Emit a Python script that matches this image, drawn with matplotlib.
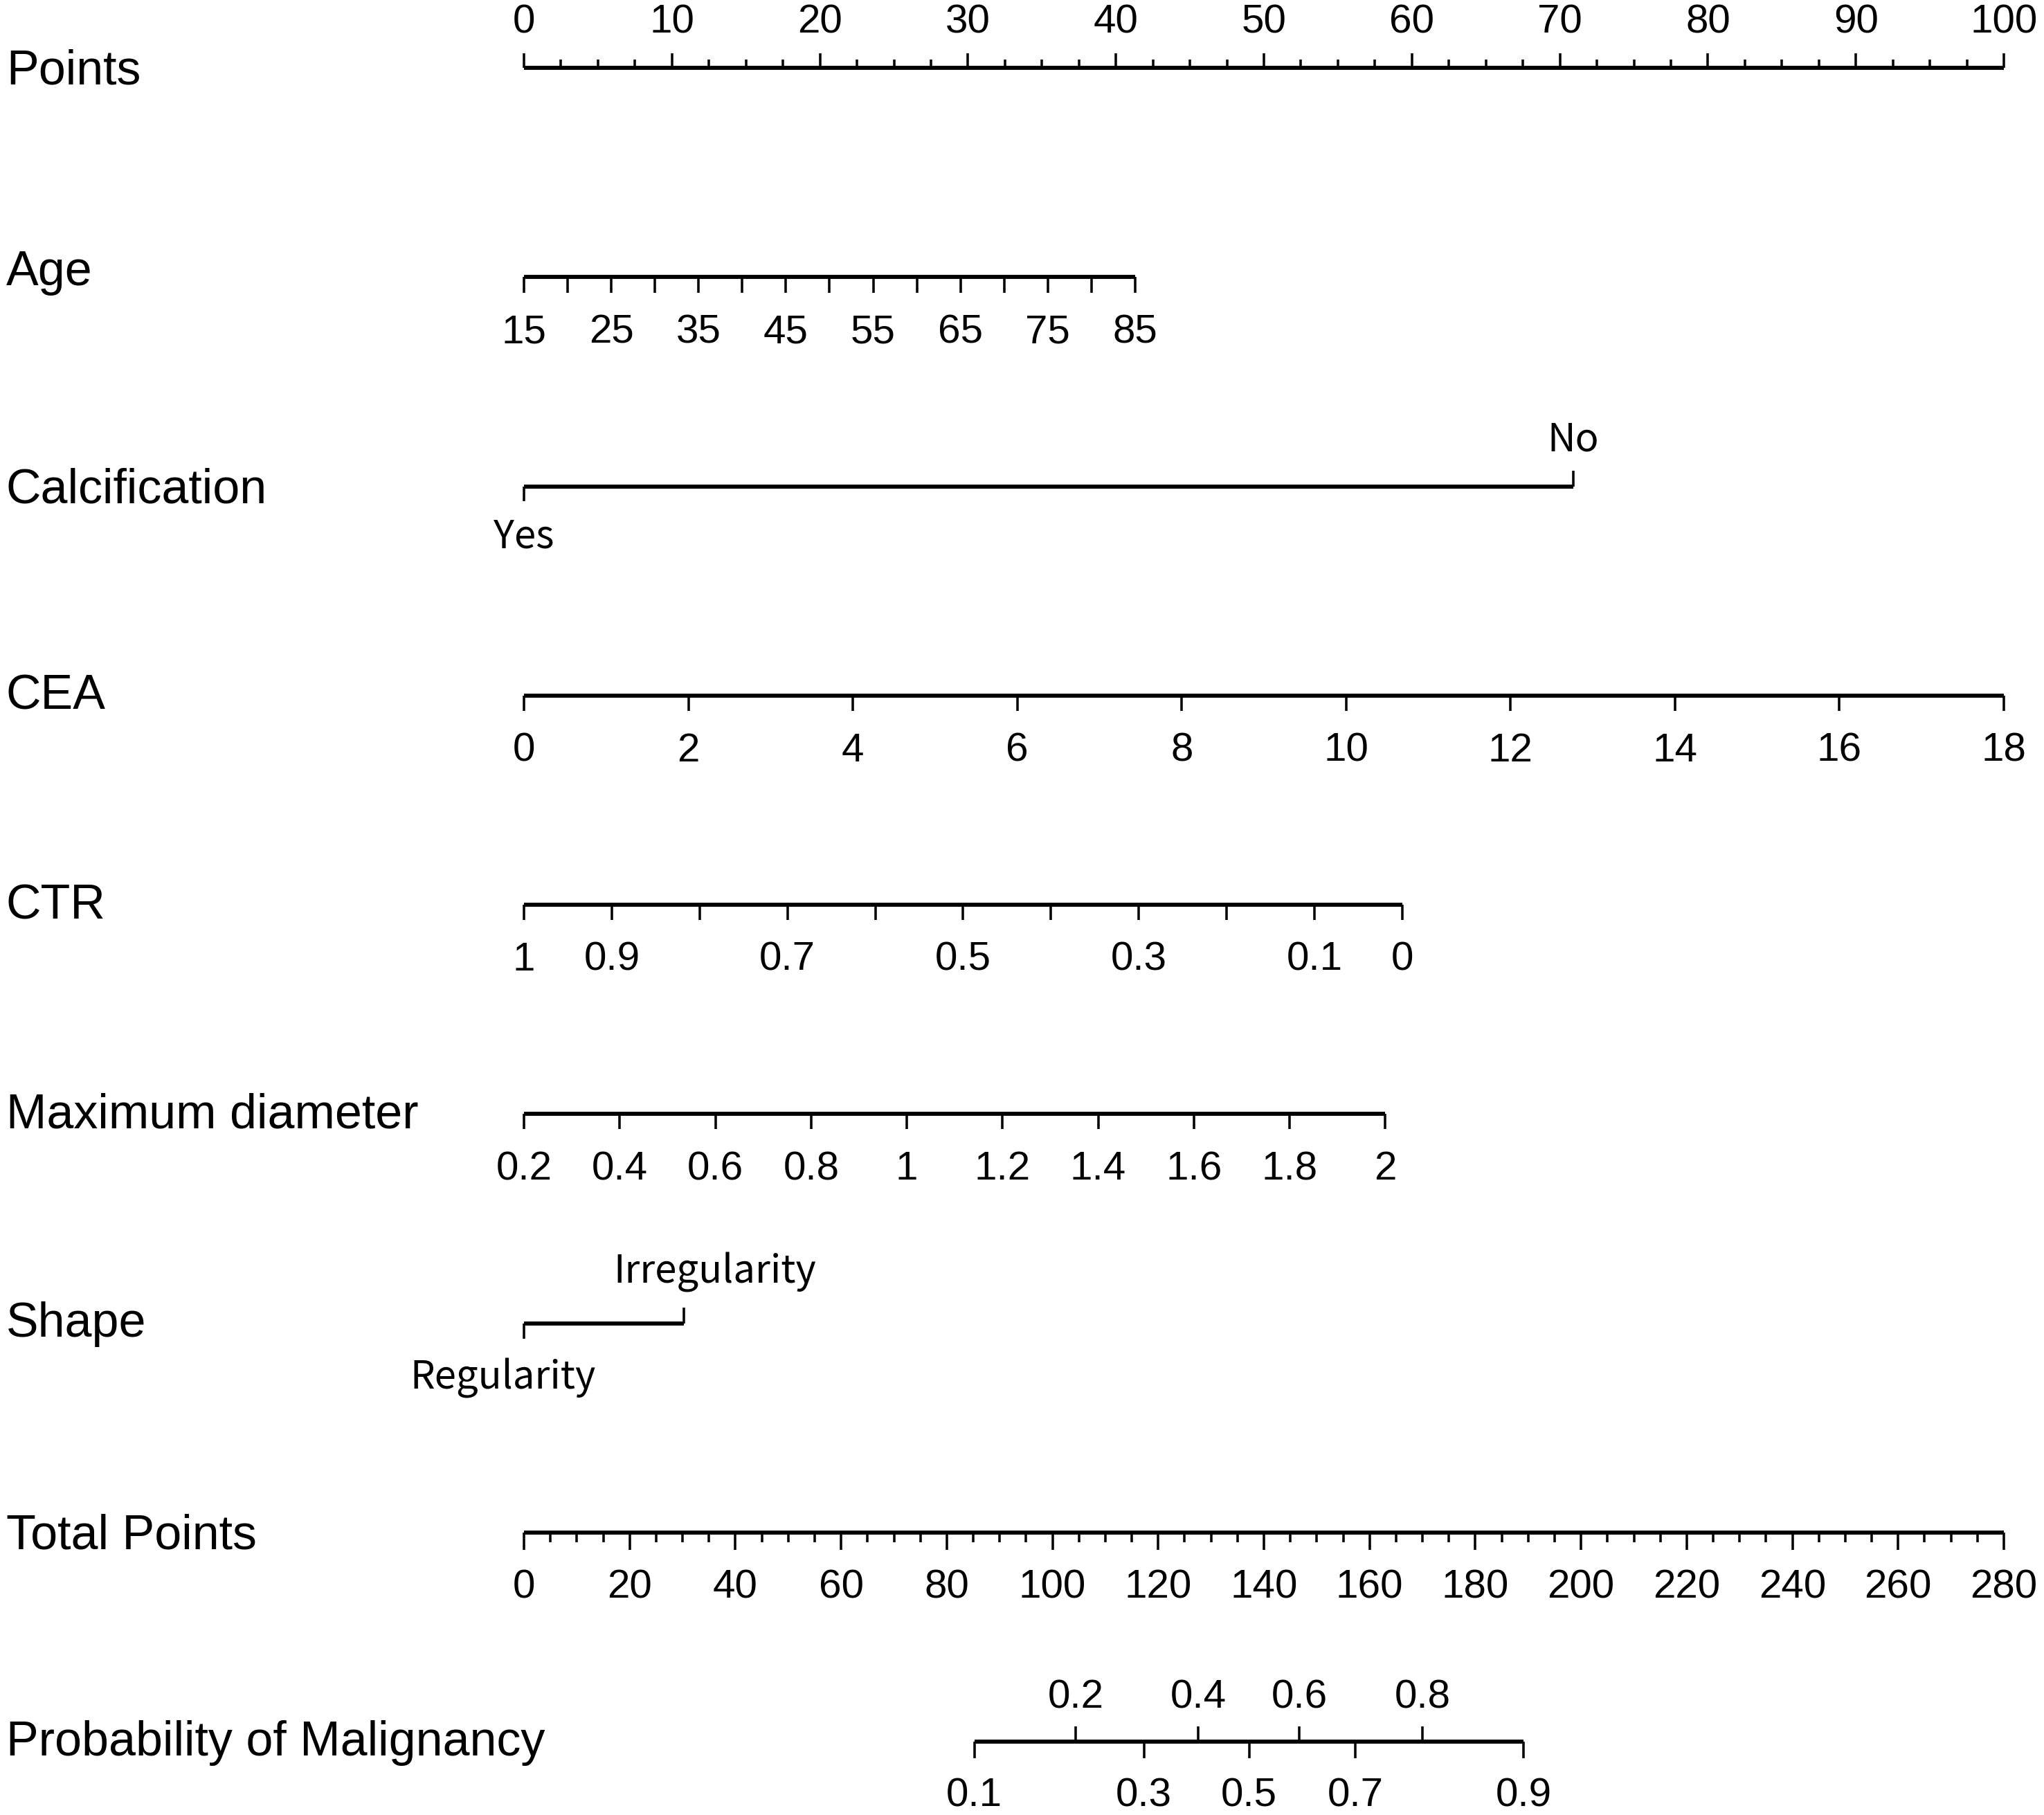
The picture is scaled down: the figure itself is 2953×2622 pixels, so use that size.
import matplotlib
matplotlib.use("Agg")
import matplotlib.pyplot as plt

# ---- values ----
row_names = ['Points', 'Age', 'Calcification', 'CEA', 'CTR',
             'Maximum diameter', 'Shape', 'Total Points',
             'Probability of Malignancy']

points_major = [0, 10, 20, 30, 40, 50, 60, 70, 80, 90, 100]
points_minor = [2.5, 5, 7.5, 12.5, 15, 17.5, 22.5, 25, 27.5, 32.5, 35, 37.5,
                42.5, 45, 47.5, 52.5, 55, 57.5, 62.5, 65, 67.5, 72.5, 75, 77.5,
                82.5, 85, 87.5, 92.5, 95, 97.5]

age_ticks = [15, 20, 25, 30, 35, 40, 45, 50, 55, 60, 65, 70, 75, 80, 85]
age_labels = [15, 25, 35, 45, 55, 65, 75, 85]
age_range_points = [0, 41.3]          # points at age 15 and 85

calc_levels = ['Yes', 'No']
calc_points = [0, 70.9]

cea_ticks = [0, 2, 4, 6, 8, 10, 12, 14, 16, 18]
cea_range_points = [0, 100]           # points at CEA 0 and 18

ctr_ticks = [1, 0.9, 0.8, 0.7, 0.6, 0.5, 0.4, 0.3, 0.2, 0.1, 0]
ctr_labels = [1, 0.9, 0.7, 0.5, 0.3, 0.1, 0]
ctr_range_points = [0, 59.35]         # points at CTR 1 and 0

diam_ticks = [0.2, 0.4, 0.6, 0.8, 1, 1.2, 1.4, 1.6, 1.8, 2]
diam_range_points = [0, 58.2]         # points at 0.2 and 2

shape_levels = ['Regularity', 'Irregularity']
shape_points = [0, 10.8]

total_major = [0, 20, 40, 60, 80, 100, 120, 140, 160, 180, 200, 220, 240, 260, 280]
total_minor_step = 5
total_max = 280

prob_labels = [0.1, 0.2, 0.3, 0.4, 0.5, 0.6, 0.7, 0.8, 0.9]
prob_total_points = [85.2, 104.4, 117.3, 127.6, 137.2, 146.7, 157.3, 170.0, 189.1]

# ---- layout (pixels of the 2953 x 2622 output) ----
W, H, DPI = 2953, 2622, 300
X0, X100 = 757, 2895
PX = (X100 - X0) / 100.0        # pixels per point
TOP, ROW = 98, 302.25           # first row line, row spacing

NUM_FONT = 'Liberation Sans'
LVL_FONT = ['Noto Sans CJK SC', 'DejaVu Sans']

fig = plt.figure(figsize=(W / DPI, H / DPI), dpi=DPI)
ax = fig.add_axes([0, 0, 1, 1])
ax.set_xlim(-X0 / PX, (W - X0) / PX)
ax.set_ylim((H - TOP) / ROW, -TOP / ROW)
ax.axis('off')


def dy(px):
    return px / ROW


def lin(vals, v0, v1, p0, p1):
    return [p0 + (v - v0) / (v1 - v0) * (p1 - p0) for v in vals]


def fmt(v):
    return f'{v:g}'


def draw_line(row, xs):
    ax.plot([min(xs), max(xs)], [row, row], color='black', lw=1.4,
            solid_capstyle='butt')


def draw_ticks(row, xs, side, length):
    # side = +1 up, -1 down
    for x in xs:
        ax.plot([x, x], [row, row - side * dy(length)], color='black',
                lw=0.85, solid_capstyle='butt')


def draw_labels(row, xs, texts, side, font=NUM_FONT, size=14, gap=50, dx=None):
    for i, (x, t) in enumerate(zip(xs, texts)):
        if dx is not None:
            x = x + dx[i] / PX
        if side > 0:
            ax.text(x, row - dy(gap), t, ha='center', va='baseline',
                    family=font, fontsize=size)
        else:
            ax.text(x, row + dy(gap), t, ha='center', va='top',
                    family=font, fontsize=size)


# row names (Age sits a little higher in the original)
name_shift = [24, 12, 24, 20, 20, 20, 20, 24, 20]
for i, name in enumerate(row_names):
    ax.text(-(X0 - 9) / PX, i + dy(name_shift[i]), name, ha='left',
            va='baseline', family=NUM_FONT, fontsize=16.8)

# Points
r = 0
draw_line(r, points_major)
draw_ticks(r, points_major, +1, 21)
draw_ticks(r, points_minor, +1, 12)
draw_labels(r, points_major, [fmt(v) for v in points_major], +1)

# Age
r = 1
xs = lin(age_ticks, 15, 85, *age_range_points)
draw_line(r, xs)
draw_ticks(r, xs, -1, 23)
draw_labels(r, lin(age_labels, 15, 85, *age_range_points),
            [fmt(v) for v in age_labels], -1, gap=53)

# Calcification
r = 2
draw_line(r, calc_points)
draw_ticks(r, [calc_points[0]], -1, 22)
draw_ticks(r, [calc_points[1]], +1, 23)
draw_labels(r, [calc_points[0]], [calc_levels[0]], -1, font=LVL_FONT, size=13.5, gap=44)
draw_labels(r, [calc_points[1]], [calc_levels[1]], +1, font=LVL_FONT, size=13.5, gap=51)

# CEA
r = 3
xs = lin(cea_ticks, 0, 18, *cea_range_points)
draw_line(r, xs)
draw_ticks(r, xs, -1, 22)
draw_labels(r, xs, [fmt(v) for v in cea_ticks], -1, gap=53)

# CTR
r = 4
xs = lin(ctr_ticks, 1, 0, *ctr_range_points)
draw_line(r, xs)
draw_ticks(r, xs, -1, 22)
draw_labels(r, lin(ctr_labels, 1, 0, *ctr_range_points),
            [fmt(v) for v in ctr_labels], -1, gap=53)

# Maximum diameter
r = 5
xs = lin(diam_ticks, 0.2, 2, *diam_range_points)
draw_line(r, xs)
draw_ticks(r, xs, -1, 22)
draw_labels(r, xs, [fmt(v) for v in diam_ticks], -1, gap=53)

# Shape
r = 6
draw_line(r, shape_points)
draw_ticks(r, [shape_points[0]], -1, 22)
draw_ticks(r, [shape_points[1]], +1, 23)
draw_labels(r, [shape_points[0]], [shape_levels[0]], -1, font=LVL_FONT,
            size=13.5, gap=50, dx=[-30])
draw_labels(r, [shape_points[1]], [shape_levels[1]], +1, font=LVL_FONT,
            size=13.5, gap=58, dx=[45])

# Total Points
r = 7
tot_scale = 100.0 / total_max
minor = [v for v in range(0, total_max + 1, total_minor_step) if v not in total_major]
draw_line(r, [v * tot_scale for v in total_major])
draw_ticks(r, [v * tot_scale for v in total_major], -1, 25)
draw_ticks(r, [v * tot_scale for v in minor], -1, 14)
draw_labels(r, [v * tot_scale for v in total_major],
            [fmt(v) for v in total_major], -1, gap=53)

# Probability of Malignancy
r = 8
xs = [v * tot_scale for v in prob_total_points]
draw_line(r, xs)
up = [x for i, x in enumerate(xs) if i % 2 == 1]
down = [x for i, x in enumerate(xs) if i % 2 == 0]
draw_ticks(r, up, +1, 22)
draw_ticks(r, down, -1, 24)
draw_labels(r, up, [fmt(v) for i, v in enumerate(prob_labels) if i % 2 == 1], +1, gap=49)
draw_labels(r, down, [fmt(v) for i, v in enumerate(prob_labels) if i % 2 == 0], -1, gap=52)

fig.savefig('out.png', dpi=DPI, facecolor='white')
